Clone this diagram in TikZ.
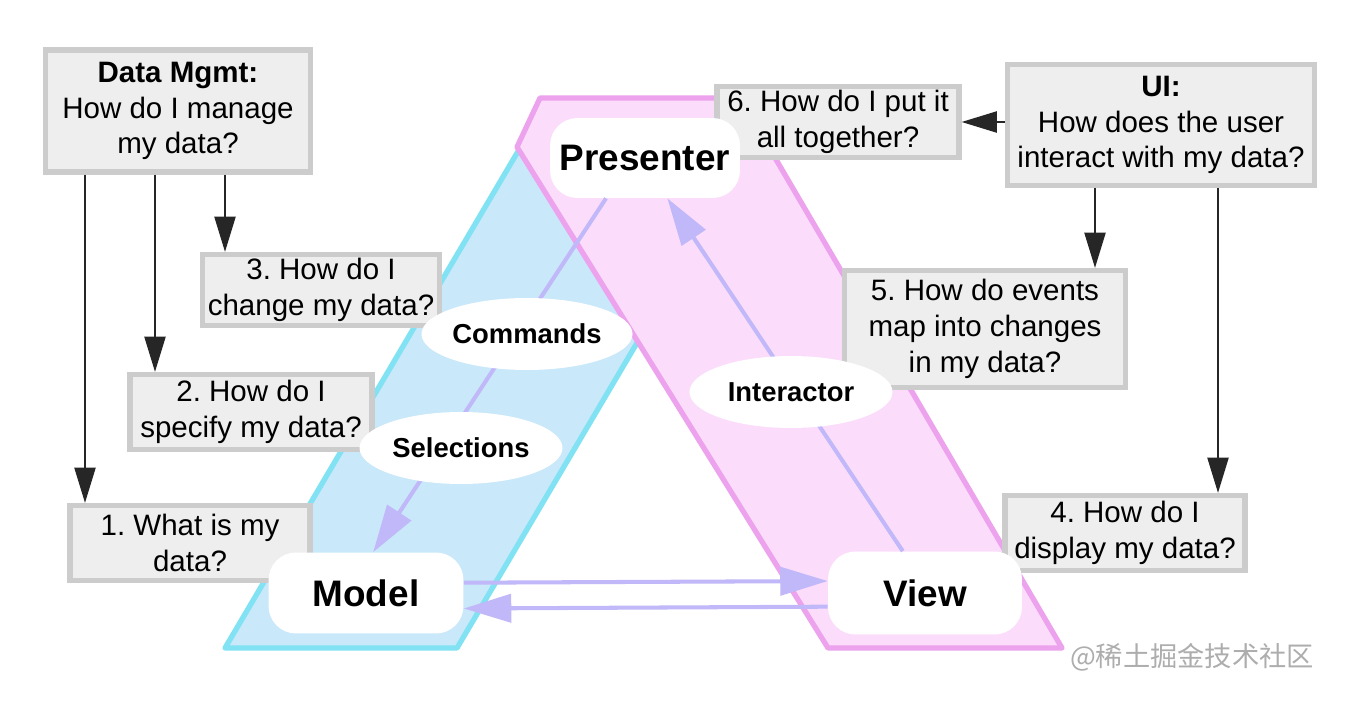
\documentclass[tikz,border=0pt]{standalone}
\usepackage{fontspec}
\setmainfont{Liberation Sans}
\newfontfamily\cjkfont{Noto Sans CJK SC}
\usetikzlibrary{arrows.meta,shapes.geometric}
\frenchspacing

\definecolor{cblueband}{RGB}{201,232,250}
\definecolor{ccyanline}{RGB}{128,226,242}
\definecolor{cpinkband}{RGB}{251,221,251}
\definecolor{cpinkline}{RGB}{236,162,236}
\definecolor{clav}{RGB}{192,184,248}
\definecolor{cboxfill}{RGB}{238,238,238}
\definecolor{cboxline}{RGB}{204,204,204}
\tikzset{
  mvpfig/.style={x=0.02cm,y=-0.02cm,font=\fontsize{16.8}{20.4}\selectfont},
  qbox/.style={draw=cboxline,fill=cboxfill,line width=3pt,align=center,inner sep=0pt},
  part/.style={fill=white,rounded corners=0.55cm,inner sep=0pt,font=\fontsize{21}{25}\selectfont\bfseries},
  role/.style={ellipse,fill=white,inner sep=0pt,minimum width=4.06cm,minimum height=1.44cm,
    font=\fontsize{15.6}{18}\selectfont\bfseries},
  flow/.style={clav,line width=2.3pt,-{Triangle[length=27pt,width=16pt]}},
  ask/.style={black!85,line width=1pt,-{Triangle[length=20pt,width=12pt]}}
}

\begin{document}
\begin{tikzpicture}[mvpfig]
    \fill[white] (0,0) rectangle (1355,705);
    \useasboundingbox (0,0) rectangle (1355,705);
    % the two bands
    \filldraw[fill=cblueband,draw=ccyanline,line width=3pt,line join=round]
      (225,648) -- (457,648) -- (752,148) -- (520,148) -- cycle;
    \filldraw[fill=cpinkband,draw=cpinkline,line width=3pt,line join=round]
      (540,98) -- (740,98) -- (1062,648) -- (828,648) -- (517,147) -- cycle;

    \node[qbox,minimum width=4.84cm,minimum height=1.42cm] (q6) at (838,122) {6. How do I put it\\all together?};
    \node[part,minimum width=3.8cm,minimum height=1.6cm] (pres) at (645,158) {Presenter};
    \node[qbox,minimum width=5.3cm,minimum height=2.44cm] (dm) at (178,111) {\textbf{Data Mgmt:}\\How do I manage\\my data?};
    \node[qbox,minimum width=6.14cm,minimum height=2.42cm] (ui) at (1161,125) {\textbf{UI:}\\How does the user\\interact with my data?};
    \node[qbox,minimum width=4.74cm,minimum height=1.42cm] (q3) at (321,290) {3. How do I\\change my data?};
    \node[qbox,minimum width=4.84cm,minimum height=1.5cm] (q2) at (251,412) {2. How do I\\specify my data?};
    \node[qbox,minimum width=4.8cm,minimum height=1.5cm] (q1) at (190,543) {1. What is my\\data?};
    \node[qbox,minimum width=5.62cm,minimum height=2.34cm] (q5) at (985,329) {5. How do events\\map into changes\\in my data?};
    \node[qbox,minimum width=4.8cm,minimum height=1.5cm] (q4) at (1125,533) {4. How do I\\display my data?};
    \node[part,minimum width=3.9cm,minimum height=1.62cm] (model) at (366,593) {Model};
    \node[part,minimum width=3.88cm,minimum height=1.66cm] (view) at (925,593) {View};

    \draw[flow] (pres.226) -- (model.80);
    \draw[flow] (view.118) -- (pres.299);
    \draw[flow] (model.6) -- (view.173);
    \draw[flow] (view.188) -- (model.351);

    \node[role] (cmd) at (527,334) {Commands};
    \node[role] (sel) at (461,448) {Selections};
    \node[role] (inter) at (791,392) {Interactor};

    % questions hanging off the two headers
    \draw[ask] (dm.south -| 85,0) -- (q1.north -| 85,0);
    \draw[ask] (dm.south -| 155,0) -- (q2.north -| 155,0);
    \draw[ask] (dm.south -| 225,0) -- (q3.north -| 225,0);
    \draw[ask] (ui.west |- q6.east) -- (q6.east);
    \draw[ask] (ui.south -| 1095,0) -- (q5.north -| 1095,0);
    \draw[ask] (ui.south -| 1218,0) -- (q4.north -| 1218,0);

    \node[black!32,font=\cjkfont\fontsize{15.5}{18}\selectfont] (mark) at (1192,657) {@稀土掘金技术社区};
\end{tikzpicture}
\end{document}
